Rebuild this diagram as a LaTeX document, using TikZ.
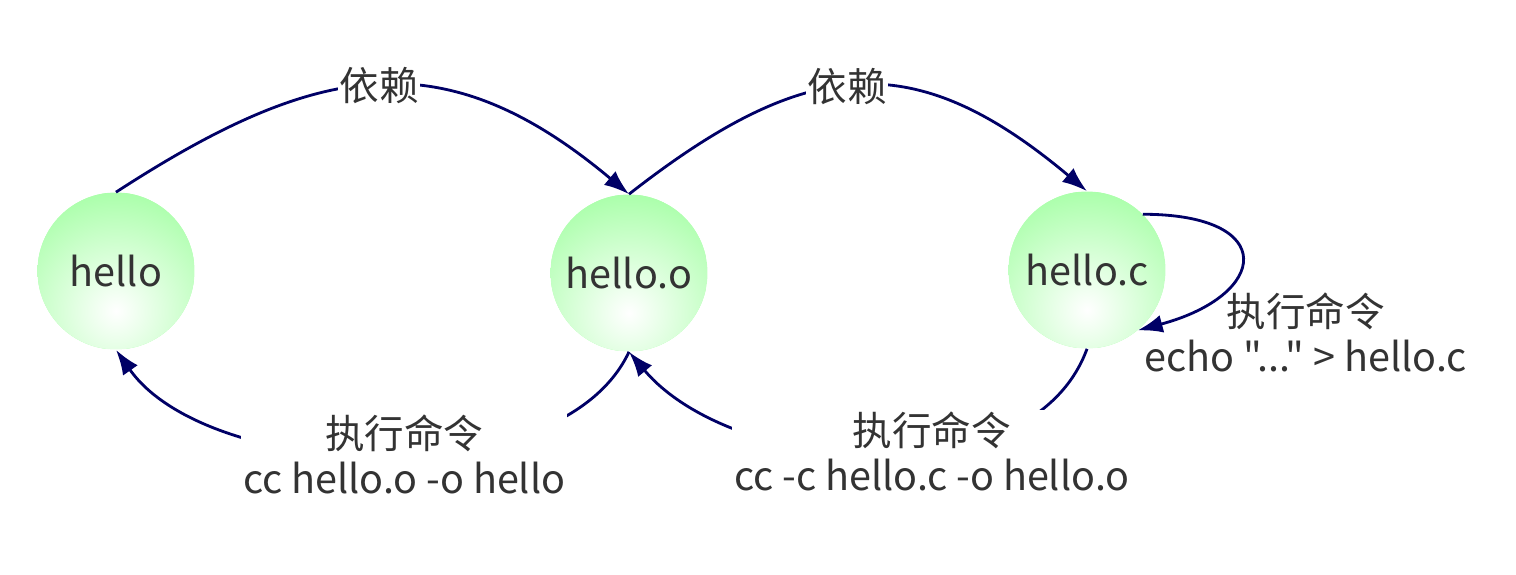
\documentclass[tikz,border=0pt]{standalone}
\usepackage{fontspec}
\newfontfamily\cjk{Noto Sans CJK SC}
\usetikzlibrary{arrows.meta}
\definecolor{nodegreen}{RGB}{170,255,170}
\definecolor{arcblue}{RGB}{0,0,102}
\definecolor{textgray}{RGB}{51,51,51}
\tikzset{
	filenode/.style={circle, minimum size=3.14cm, inner sep=0pt,
		path picture={
			\fill [nodegreen] (path picture bounding box.south west) rectangle (path picture bounding box.north east);
			\shade [inner color=white, outer color=nodegreen] ([yshift=-0.8cm]path picture bounding box.center) circle (2.4cm);
		}},
	dep/.style={draw=arcblue, line width=1.6pt, -{Latex[length=0.5cm, width=0.36cm]}},
	note/.style={fill=white, align=center, inner sep=1pt},
	loopnote/.style={align=center, inner sep=1pt}
}
\begin{document}
\begin{tikzpicture}[x=0.02cm, y=0.02cm, font=\cjk\fontsize{22.5}{25.6}\selectfont, text=textgray]
		\useasboundingbox (0,0) rectangle (1516,-575);
		\node [filenode] (v1) at (116,-271) {hello};
		\node [filenode] (v2) at (629,-273) {hello.o};
		\node [filenode] (v3) at (1087,-270) {hello.c};
		\draw (v1.north) edge [dep, out=33, in=140, looseness=1.2] node [note] {依赖} (v2.north);
		\draw (v2.north) edge [dep, out=38, in=140, looseness=1.26] node [note, pos=0.47] {依赖} (v3.north);
		\draw (v3.45) edge [dep, out=0, in=15, looseness=3] node [loopnote, xshift=1.3cm, yshift=-1.46cm] {执行命令\\echo "..." > hello.c} (v3.-50);
		\draw (v2.south) edge [dep, out=-115, in=-55, looseness=0.8] node [note, pos=0.465] {执行命令\\cc hello.o -o hello} (v1.south);
		\draw (v3.south) edge [dep, out=-110, in=-50, looseness=0.9] node [note, pos=0.4] {执行命令\\cc -c hello.c -o hello.o} (v2.south);
\end{tikzpicture}
\end{document}
